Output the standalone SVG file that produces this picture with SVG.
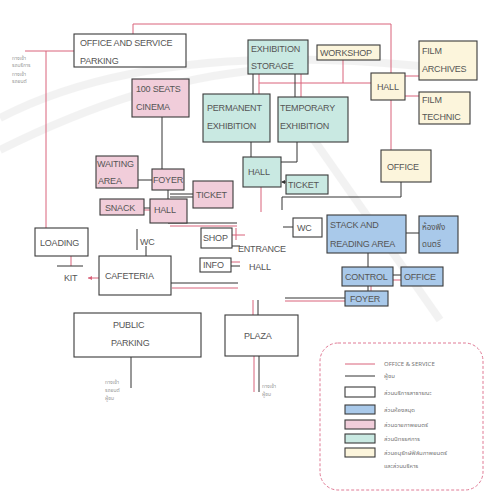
<svg xmlns="http://www.w3.org/2000/svg" width="486" height="496" viewBox="0 0 486 496">
<defs>
<style>
.bx{stroke:#3a3a3a;stroke-width:1.1}
.w{fill:#ffffff}
.pk{fill:#f1cdda}
.tl{fill:#c9e9e2}
.bl{fill:#a9c9ea}
.yl{fill:#fcf5dc}
.t{font-family:"Liberation Sans",Arial,sans-serif;font-size:9px;fill:#555;letter-spacing:-0.2px}
.th{font-family:"Noto Sans Thai","Noto Sans","DejaVu Sans",sans-serif;font-size:6px;fill:#777}
.sm{font-family:"Noto Sans Thai","Noto Sans","DejaVu Sans",sans-serif;font-size:5px;fill:#999}
.r{stroke:#d9627a;stroke-width:1;fill:none}
.k{stroke:#333;stroke-width:1;fill:none}
</style>
</defs>
<rect width="486" height="496" fill="#ffffff"/>
<g opacity="0.18" fill="none" stroke="#bdbdbd" stroke-width="8">
<path d="M0 118 Q150 40 420 66"/>
<path d="M0 150 Q140 80 260 70"/>
<path d="M300 120 L440 320"/>
</g>

<g id="connectors">
<path class="r" d="M133 34 V24 H391 V73"/>
<path class="r" d="M80 51 H25"/>
<path class="r" d="M46 51 V228"/>
<path class="r" d="M71 256 V266"/>
<path class="r" d="M259 74 V94 M301 74 V97 M259 83 H371 M343 60 V83"/>
<path class="r" d="M405 76 H419 M405 96 H419 M391 100 V150"/>
<path class="r" d="M261 187 V212"/>
<path class="r" d="M170 226 H237"/>
<path class="r" d="M232 235 H245 M236 228 V240"/>
<path class="r" d="M231 262 H240"/>
<path class="r" d="M172 288 H238"/>
<path class="r" d="M253 300 V315 M254 356 V392"/>
<path class="r" d="M285 301 H345"/>
<path class="r" d="M393 280 H401 M371 286 V291"/>
<path class="r" d="M144 210 H150"/>
<path class="r" d="M99 278 H88"/>
<path d="M88 278 l4 -2 v4 z" fill="#d9627a"/>
<path class="k" d="M253 74 V94 M295 74 V97"/>
<path class="k" d="M162 117 V169"/>
<path class="k" d="M138 180 H152"/>
<path class="k" d="M168 190 V199 M170 194 H193 M170 197 H193"/>
<path class="k" d="M144 208 H150"/>
<path class="k" d="M251 142 V157"/>
<path class="k" d="M297 142 V162 H281"/>
<path class="k" d="M286 182 H282"/>
<path d="M281 182 l4 -2 v4 z" fill="#333"/>
<path class="k" d="M401 182 V197 H282 V210"/>
<path class="k" d="M283 227 H293"/>
<path class="k" d="M168 223 H237"/>
<path class="k" d="M137 229 V250 M146 246 V256"/>
<path class="k" d="M57 266 H83"/>
<path class="k" d="M232 246 H240 M231 266 H240"/>
<path class="k" d="M168 283 H238"/>
<path class="k" d="M258 300 V315 M259 356 V392"/>
<path class="k" d="M285 298 H345"/>
<path class="k" d="M406 233 H419"/>
<path class="k" d="M368 253 V267"/>
<path class="k" d="M393 275 H401 M368 286 V291"/>
<path class="k" d="M131 357 V388"/>
</g>

<g id="office-service-parking"><rect class="bx w" x="74" y="34" width="112" height="33"/><text class="t" x="80" y="46">OFFICE AND SERVICE</text><text class="t" x="80" y="64">PARKING</text></g>
<g id="cinema"><rect class="bx pk" x="132" y="79" width="57" height="38"/><text class="t" x="136" y="92">100 SEATS</text><text class="t" x="136" y="110">CINEMA</text></g>
<g id="exhibition-storage"><rect class="bx tl" x="248" y="40" width="60" height="34"/><text class="t" x="251" y="52">EXHIBITION</text><text class="t" x="251" y="69">STORAGE</text></g>
<g id="workshop"><rect class="bx yl" x="317" y="45" width="63" height="15"/><text class="t" x="320" y="56">WORKSHOP</text></g>
<g id="film-archives"><rect class="bx yl" x="419" y="41" width="58" height="39"/><text class="t" x="422" y="54">FILM</text><text class="t" x="422" y="72">ARCHIVES</text></g>
<g id="film-hall"><rect class="bx yl" x="371" y="73" width="34" height="27"/><text class="t" x="377" y="90">HALL</text></g>
<g id="film-technic"><rect class="bx yl" x="419" y="92" width="51" height="32"/><text class="t" x="422" y="103">FILM</text><text class="t" x="422" y="120">TECHNIC</text></g>
<g id="permanent-exhibition"><rect class="bx tl" x="203" y="94" width="67" height="48"/><text class="t" x="207" y="111">PERMANENT</text><text class="t" x="207" y="129">EXHIBITION</text></g>
<g id="temporary-exhibition"><rect class="bx tl" x="278" y="97" width="70" height="45"/><text class="t" x="280" y="111">TEMPORARY</text><text class="t" x="280" y="129">EXHIBITION</text></g>
<g id="waiting-area"><rect class="bx pk" x="96" y="156" width="42" height="32"/><text class="t" x="97" y="167">WAITING</text><text class="t" x="98" y="184">AREA</text></g>
<g id="cinema-foyer"><rect class="bx pk" x="152" y="169" width="32" height="21"/><text class="t" x="153" y="183">FOYER</text></g>
<g id="cinema-ticket"><rect class="bx pk" x="193" y="181" width="40" height="27"/><text class="t" x="196" y="198">TICKET</text></g>
<g id="snack"><rect class="bx pk" x="100" y="199" width="44" height="16"/><text class="t" x="105" y="211">SNACK</text></g>
<g id="cinema-hall"><rect class="bx pk" x="150" y="199" width="37" height="24"/><text class="t" x="154" y="213">HALL</text></g>
<g id="exhibition-hall"><rect class="bx tl" x="243" y="157" width="38" height="30"/><text class="t" x="248" y="175">HALL</text></g>
<g id="exhibition-ticket"><rect class="bx tl" x="286" y="175" width="42" height="19"/><text class="t" x="288" y="188">TICKET</text></g>
<g id="office"><rect class="bx yl" x="381" y="150" width="50" height="32"/><text class="t" x="387" y="170">OFFICE</text></g>
<g id="shop"><rect class="bx w" x="201" y="228" width="31" height="20"/><text class="t" x="203" y="241">SHOP</text></g>
<g id="entrance-hall"><text class="t" x="238" y="252">ENTRANCE</text><text class="t" x="249" y="270">HALL</text></g>
<g id="wc-right"><rect class="bx w" x="293" y="218" width="29" height="19"/><text class="t" x="297" y="231">WC</text></g>
<g id="wc-left"><text class="t" x="140" y="245">WC</text></g>
<g id="loading"><rect class="bx w" x="35" y="228" width="53" height="28"/><text class="t" x="40" y="246">LOADING</text></g>
<g id="kit"><text class="t" x="64" y="281">KIT</text></g>
<g id="cafeteria"><rect class="bx w" x="99" y="256" width="72" height="39"/><text class="t" x="105" y="279">CAFETERIA</text></g>
<g id="info"><rect class="bx w" x="200" y="258" width="31" height="14"/><text class="t" x="203" y="268">INFO</text></g>
<g id="stack-reading"><rect class="bx bl" x="327" y="215" width="79" height="38"/><text class="t" x="330" y="228">STACK AND</text><text class="t" x="330" y="247">READING AREA</text></g>
<g id="library-room"><rect class="bx bl" x="419" y="216" width="39" height="37"/><text class="th" x="422" y="230" style="font-size:8px;fill:#555">ห้องฟัง</text><text class="th" x="422" y="247" style="font-size:8px;fill:#555">ดนตรี</text></g>
<g id="control"><rect class="bx bl" x="342" y="267" width="51" height="19"/><text class="t" x="345" y="280">CONTROL</text></g>
<g id="library-office"><rect class="bx bl" x="401" y="267" width="42" height="19"/><text class="t" x="404" y="280">OFFICE</text></g>
<g id="library-foyer"><rect class="bx bl" x="345" y="291" width="43" height="15"/><text class="t" x="350" y="302">FOYER</text></g>
<g id="public-parking"><rect class="bx w" x="74" y="313" width="127" height="44"/><text class="t" x="113" y="328">PUBLIC</text><text class="t" x="111" y="346">PARKING</text></g>
<g id="plaza"><rect class="bx w" x="225" y="315" width="73" height="41"/><text class="t" x="244" y="339">PLAZA</text></g>

<g id="notes">
<text class="sm" x="12" y="60">ทางเข้า</text><text class="sm" x="12" y="67">รถบริการ</text><text class="sm" x="12" y="76">ทางเข้า</text><text class="sm" x="12" y="83">รถยนต์</text>
<text class="sm" x="105" y="384">ทางเข้า</text><text class="sm" x="105" y="392">รถยนต์</text><text class="sm" x="105" y="400">ผู้ชม</text>
<text class="sm" x="262" y="388">ทางเข้า</text><text class="sm" x="262" y="396">ผู้ชม</text>
</g>

<g id="legend">
<rect x="320" y="343" width="163" height="147" rx="18" fill="none" stroke="#e07a95" stroke-width="1" stroke-dasharray="3 2"/>
<line x1="345" y1="364" x2="375" y2="364" stroke="#d9627a"/>
<line x1="345" y1="376" x2="375" y2="376" stroke="#333"/>
<rect class="bx w" x="345" y="387" width="30" height="10"/>
<rect class="bx bl" x="345" y="405" width="30" height="9"/>
<rect class="bx pk" x="345" y="420" width="30" height="9"/>
<rect class="bx tl" x="345" y="434" width="30" height="9"/>
<rect class="bx yl" x="345" y="448" width="30" height="9"/>
<text class="th" x="384" y="366">OFFICE &amp; SERVICE</text>
<text class="th" x="384" y="378">ผู้ชม</text>
<text class="th" x="384" y="395">ส่วนบริการสาธารณะ</text>
<text class="th" x="384" y="412">ส่วนห้องสมุด</text>
<text class="th" x="384" y="427">ส่วนฉายภาพยนตร์</text>
<text class="th" x="384" y="441">ส่วนนิทรรศการ</text>
<text class="th" x="384" y="455">ส่วนอนุรักษ์ฟิล์มภาพยนตร์</text>
<text class="th" x="384" y="468">และส่วนบริหาร</text>
</g>
</svg>
